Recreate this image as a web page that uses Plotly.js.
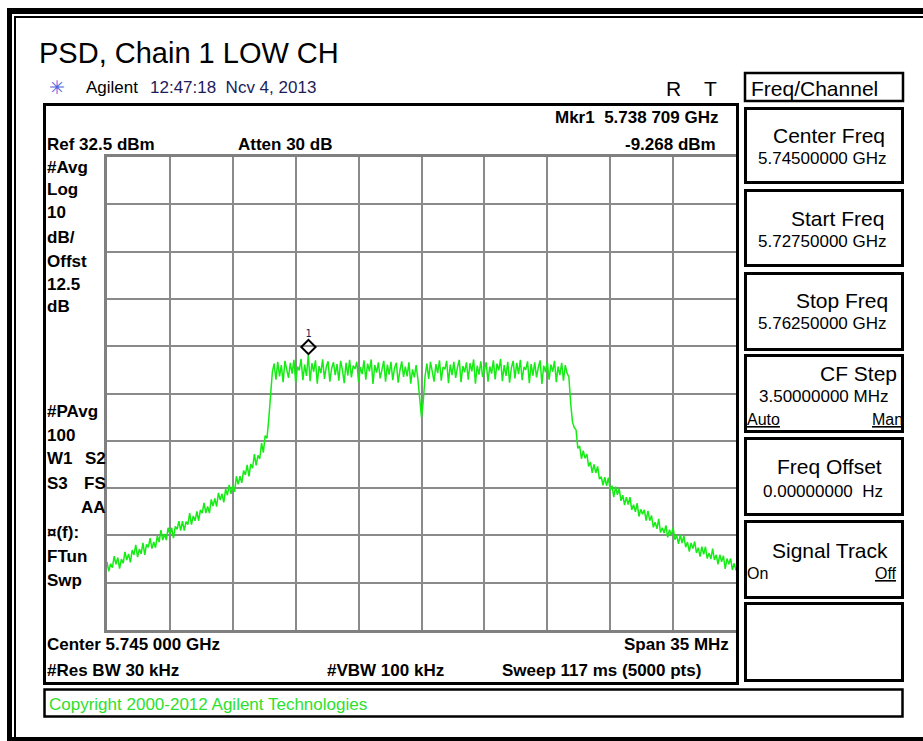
<!DOCTYPE html>
<html><head><meta charset="utf-8">
<script src="https://cdn.plot.ly/plotly-3.0.1.min.js"></script>
<style>html,body{margin:0;padding:0;background:#fff;overflow:hidden}#chart{width:923px;height:741px}</style>
</head><body><div id="chart"></div>
<script>
const startFreqGHz = 5.7275, stopFreqGHz = 5.7625, refLevelDbm = 32.5, dbPerDiv = 10;

const leftSkirtStartGHz = 5.7275, leftSkirtStepGHz = 0.0001;
const leftSkirtDbm = [-53.1,-55.1,-53.5,-54.3,-51.9,-53.6,-52.2,-54.5,-52.5,-53.4,
  -51.0,-52.7,-51.4,-53.2,-50.6,-51.6,-49.5,-52.1,-50.4,-51.4,
  -49.1,-51.6,-49.4,-50.0,-48.1,-50.3,-48.9,-50.1,-47.6,-48.9,
  -46.4,-48.5,-47.2,-48.5,-45.9,-47.2,-45.9,-48.1,-45.6,-46.2,
  -44.5,-46.5,-44.5,-46.5,-44.6,-45.2,-42.8,-45.2,-43.4,-44.4,
  -42.4,-44.4,-42.1,-42.8,-40.6,-42.8,-41.4,-42.8,-39.9,-41.3,
  -39.7,-41.4,-38.5,-40.0,-38.7,-40.5,-37.7,-39.0,-36.8,-38.7,
  -37.0,-38.3,-35.0,-36.7,-35.0,-36.4,-33.8,-34.7,-32.6,-35.0,
  -32.4,-33.3,-30.3,-32.7,-30.6,-31.3,-28.0,-30.0,-26.4,-27.0,-23.0];

const bandStartGHz = 5.7366, bandStepGHz = 0.0001;
const bandDbm = [-18.5,-13.0,-11.2,-14.6,-10.8,-13.9,-11.5,-15.1,-10.6,-12.8,
  -14.2,-11.0,-13.3,-10.4,-15.2,-11.8,-12.6,-10.2,-14.7,-11.4,
  -13.8,-9.3,-14.9,-11.1,-12.9,-10.5,-15.4,-11.7,-13.2,-10.3,
  -14.4,-11.9,-10.7,-15.0,-12.2,-10.9,-13.6,-11.3,-14.8,-10.6,
  -12.5,-15.3,-11.0,-13.7,-10.4,-14.1,-11.6,-12.3,-10.8,-15.1,
  -11.9,-13.4,-10.5,-14.6,-11.2,-12.8,-10.3,-15.5,-11.5,-13.1,
  -10.9,-14.3,-12.0,-10.6,-15.0,-11.4,-13.5,-10.8,-14.7,-12.1,
  -11.0,-15.2,-12.6,-10.7,-14.0,-11.8,-13.9,-10.9,-15.4,-12.4,
  -14.1,-11.5,-14.5,-18.2,-22.5,-19.0,-13.8,-11.2,-14.4,-10.8,
  -12.7,-15.0,-11.3,-13.2,-10.5,-14.8,-11.9,-12.4,-10.6,-15.3,
  -11.4,-13.6,-10.8,-14.2,-12.0,-10.4,-15.1,-11.7,-13.0,-10.9,
  -14.6,-11.1,-12.8,-10.3,-15.4,-11.6,-13.5,-10.7,-14.0,-12.2,
  -10.9,-15.0,-11.8,-13.3,-10.5,-14.5,-11.2,-12.6,-10.2,-14.9,
  -11.5,-13.8,-10.8,-15.2,-12.1,-10.6,-14.3,-11.0,-13.4,-10.4,
  -14.7,-11.9,-12.5,-10.7,-15.3,-11.3,-13.7,-10.9,-14.1,-12.0,
  -10.5,-15.5,-11.6,-13.0,-10.8,-14.6,-11.4,-12.9,-10.6,-15.1,
  -11.8,-13.6,-11.0,-14.8,-11.5,-13.2,-14.0,-19.5,-23.5];

const rightSkirtStartGHz = 5.7535, rightSkirtStepGHz = 0.0001;
const rightSkirtDbm = [-24.7,-25.2,-29.1,-28.6,-31.3,-29.6,-31.2,-30.3,-32.9,-32.0,
  -34.3,-32.5,-34.3,-32.9,-35.6,-35.1,-36.9,-35.2,-37.0,-35.3,
  -37.9,-37.0,-39.4,-37.2,-38.9,-37.6,-40.2,-39.0,-41.1,-39.4,
  -41.0,-39.4,-42.1,-41.0,-42.5,-40.7,-43.5,-42.0,-43.0,-42.1,
  -44.4,-42.3,-44.4,-43.3,-45.8,-44.7,-46.1,-44.0,-46.9,-45.9,
  -47.0,-45.4,-47.9,-46.3,-47.5,-45.8,-48.4,-47.5,-49.3,-47.4,
  -49.1,-47.6,-50.0,-48.9,-50.9,-49.1,-50.3,-48.8,-51.2,-50.1,
  -52.0,-49.9,-51.5,-49.9,-52.4,-51.2,-52.5,-50.3,-52.7,-51.6,
  -53.6,-51.6,-53.1,-51.8,-54.6,-52.4,-53.6,-52.4,-54.8,-53.4,-54.9];

const markerFreqGHz = [5.738709];
const markerDbm = [-9.268];
const markerLabels = ['1'];

// ---- build trace ----
const xs = [], ys = [];
function addSeg(start, step, vals){ vals.forEach((v,i)=>{ xs.push(start + i*step); ys.push(v); }); }
addSeg(leftSkirtStartGHz, leftSkirtStepGHz, leftSkirtDbm);
addSeg(bandStartGHz, bandStepGHz, bandDbm);
addSeg(rightSkirtStartGHz, rightSkirtStepGHz, rightSkirtDbm);

const W = 923, H = 741;
const F = 'Liberation Sans, Arial, sans-serif';
const px = x => x / W, py = y => 1 - y / H;

function T(text, x, y, o = {}) {
  return {text: text, xref: 'paper', yref: 'paper', x: px(x), y: py(y),
    xanchor: o.xa || 'left', yanchor: 'middle', showarrow: false,
    borderpad: 0, borderwidth: 0,
    font: {family: F, size: o.s || 17, color: o.c || '#000'}};
}
const B = s => '<b>' + s + '</b>';
function R(x0, y0, x1, y1, w, fill) {
  return {type: 'rect', xref: 'paper', yref: 'paper', x0: px(x0), x1: px(x1), y0: py(y0), y1: py(y1),
    line: {color: '#000', width: w || 0}, fillcolor: fill || 'rgba(0,0,0,0)', layer: 'above'};
}

const shapes = [
  // outer double border
  R(7, 8, 923, 14, 0, '#000'),
  R(7, 8, 12, 741, 0, '#000'),
  R(7, 737, 923, 741, 0, '#000'),
  R(14, 16, 923, 18, 0, '#000'),
  R(14, 16, 16, 737, 0, '#000'),
  // instrument frame
  R(44.5, 104.5, 737.5, 683.5, 3),
  // copyright box
  R(44.5, 689.5, 902.5, 716.5, 2.5),
  // softkey boxes
  R(745, 73, 903, 101, 2.5),
  R(745.5, 108.5, 902.5, 182.5, 3),
  R(745.5, 190.5, 902.5, 265.5, 3),
  R(745.5, 273.5, 902.5, 349.5, 3),
  R(745.5, 355.5, 902.5, 431.5, 3),
  R(745.5, 438.5, 902.5, 514.5, 3),
  R(745.5, 521.5, 902.5, 597.5, 3),
  R(745.5, 603.5, 902.5, 680.5, 3)
];

const annotations = [
  T('PSD, Chain 1 LOW CH', 39, 53, {s: 29}),
  T('✳', 49, 87, {s: 19, c: '#5363e0'}),
  T('Agilent', 86, 87, {s: 17}),
  T('12:47:18  Ncv 4, 2013', 150, 87, {s: 17, c: '#1c1c5a'}),
  T('R', 673, 88, {s: 21, xa: 'center'}),
  T('T', 710, 88, {s: 21, xa: 'center'}),
  T(B('Mkr1  5.738 709 GHz'), 718, 118, {xa: 'right'}),
  T(B('-9.268 dBm'), 716, 144, {xa: 'right'}),
  T(B('Ref 32.5 dBm'), 47, 144),
  T(B('Atten 30 dB'), 238, 144),
  T(B('#Avg'), 47, 167), T(B('Log'), 47, 190), T(B('10'), 47, 213),
  T(B('dB/'), 47, 237), T(B('Offst'), 47, 261), T(B('12.5'), 47, 284), T(B('dB'), 47, 306),
  T(B('#PAvg'), 47, 411), T(B('100'), 47, 435),
  T(B('W1'), 47, 459), T(B('S2'), 106, 459, {xa: 'right'}),
  T(B('S3'), 47, 483), T(B('FS'), 106, 483, {xa: 'right'}),
  T(B('AA'), 106, 507, {xa: 'right'}),
  T(B('¤(f):'), 47, 532), T(B('FTun'), 47, 556), T(B('Swp'), 47, 580),
  T(B('Center 5.745 000 GHz'), 47, 644),
  T(B('Span 35 MHz'), 729, 644, {xa: 'right'}),
  T(B('#Res BW 30 kHz'), 47, 670),
  T(B('#VBW 100 kHz'), 327, 670),
  T(B('Sweep 117 ms (5000 pts)'), 502, 670),
  T('Copyright 2000-2012 Agilent Technologies', 49, 704, {s: 17, c: '#2de02d'}),
  // softkeys
  T('Freq/Channel', 751, 88, {s: 21}),
  T('Center Freq', 885, 135, {s: 21, xa: 'right'}),
  T('5.74500000 GHz', 887, 158, {xa: 'right'}),
  T('Start Freq', 884, 218, {s: 21, xa: 'right'}),
  T('5.72750000 GHz', 887, 241, {xa: 'right'}),
  T('Stop Freq', 888, 300, {s: 21, xa: 'right'}),
  T('5.76250000 GHz', 887, 323, {xa: 'right'}),
  T('CF Step', 897, 373, {s: 21, xa: 'right'}),
  T('3.50000000 MHz', 888, 397, {xa: 'right'}),
  T('<u>Auto</u>', 747, 419, {s: 16}),
  T('<u>Man</u>', 903, 419, {s: 16, xa: 'right'}),
  T('Freq Offset', 882, 467, {s: 21, xa: 'right'}),
  T('0.00000000  Hz', 883, 491, {xa: 'right'}),
  T('Signal Track', 888, 550, {s: 21, xa: 'right'}),
  T('On', 747, 573, {s: 16}),
  T('<u>Off</u>', 897, 573, {s: 16, xa: 'right'})
];

const traces = [
  {x: xs, y: ys, type: 'scatter', mode: 'lines', line: {color: '#14ec14', width: 1.5}, hoverinfo: 'skip'},
  {x: markerFreqGHz, y: markerDbm, yaxis: 'y2', type: 'scatter', mode: 'markers+text',
   text: markerLabels, textposition: 'top center',
   textfont: {family: 'DejaVu Sans Mono, monospace', size: 10, color: '#1c1c5a'},
   marker: {symbol: 'diamond-open', size: 11, color: '#000', line: {width: 2, color: '#000'}}, hoverinfo: 'skip'}
];

const layout = {
  width: W, height: H, margin: {l: 0, r: 0, t: 0, b: 0},
  paper_bgcolor: '#fff', plot_bgcolor: '#fff', showlegend: false,
  xaxis: {domain: [px(107), px(736)], range: [startFreqGHz, stopFreqGHz], tick0: startFreqGHz, dtick: (stopFreqGHz - startFreqGHz) / 10,
    showgrid: true, gridcolor: '#8a8a8a', gridwidth: 2, showticklabels: false, ticks: '',
    showline: true, linecolor: '#808080', linewidth: 3, mirror: true, zeroline: false, fixedrange: true},
  yaxis: {domain: [py(630), py(157)], range: [refLevelDbm - 10 * dbPerDiv, refLevelDbm], tick0: refLevelDbm, dtick: dbPerDiv,
    showgrid: true, gridcolor: '#8a8a8a', gridwidth: 2, showticklabels: false, ticks: '',
    showline: true, linecolor: '#808080', linewidth: 3, mirror: true, zeroline: false, fixedrange: true},
  yaxis2: {overlaying: 'y', range: [refLevelDbm - 10 * dbPerDiv - 1.6, refLevelDbm - 1.6], visible: false, fixedrange: true},
  shapes: shapes, annotations: annotations
};

Plotly.newPlot('chart', traces, layout, {staticPlot: true, displayModeBar: false});
</script>
</body></html>
